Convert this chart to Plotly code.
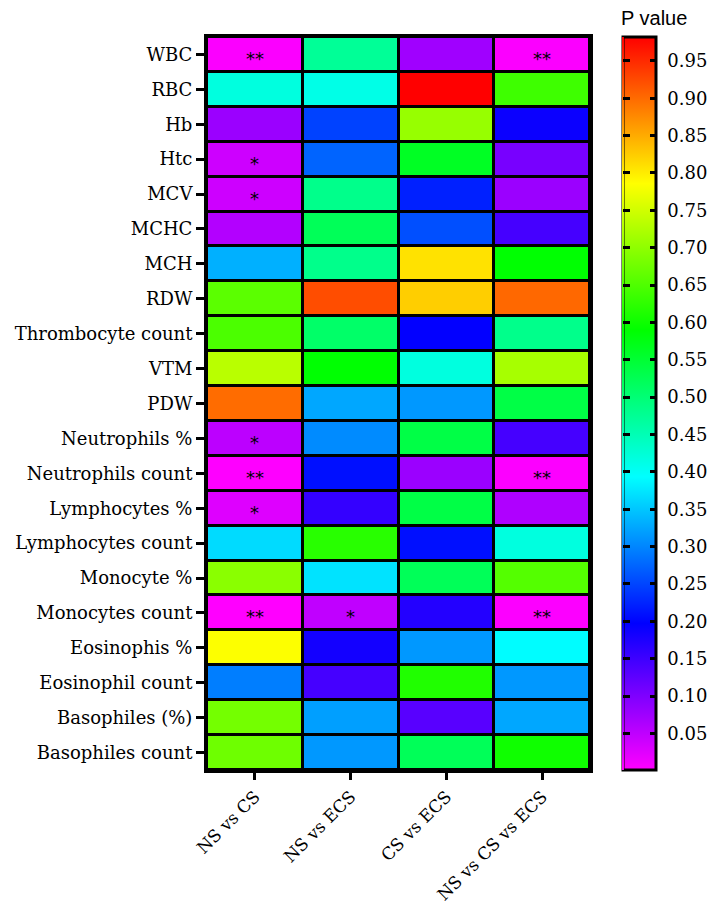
import colorsys
import plotly.graph_objects as go

rows = ["WBC", "RBC", "Hb", "Htc", "MCV", "MCHC", "MCH", "RDW", "Thrombocyte count",
        "VTM", "PDW", "Neutrophils %", "Neutrophils count", "Lymphocytes %",
        "Lymphocytes count", "Monocyte %", "Monocytes count", "Eosinophis %",
        "Eosinophil count", "Basophiles (%)", "Basophiles count"]
cols = ["NS vs CS", "NS vs ECS", "CS vs ECS", "NS vs CS vs ECS"]

ns_vs_cs = [0.004, 0.418, 0.078, 0.039, 0.039, 0.059, 0.333, 0.659, 0.647, 0.732, 0.899,
            0.052, 0.002, 0.026, 0.366, 0.696, 0.001, 0.784, 0.294, 0.679, 0.674]
ns_vs_ecs = [0.473, 0.412, 0.248, 0.274, 0.483, 0.522, 0.483, 0.923, 0.510, 0.588, 0.326,
             0.304, 0.209, 0.157, 0.620, 0.372, 0.049, 0.183, 0.144, 0.320, 0.314]
cs_vs_ecs = [0.074, 0.982, 0.706, 0.562, 0.222, 0.258, 0.808, 0.823, 0.196, 0.418, 0.314,
             0.536, 0.078, 0.536, 0.209, 0.522, 0.170, 0.314, 0.614, 0.130, 0.522]
ns_cs_ecs = [0.004, 0.637, 0.189, 0.105, 0.078, 0.144, 0.588, 0.902, 0.483, 0.718, 0.536,
             0.144, 0.003, 0.062, 0.418, 0.654, 0.003, 0.392, 0.314, 0.326, 0.601]

stars_ns_vs_cs = ["**", "", "", "*", "*", "", "", "", "", "", "", "*", "**", "*", "", "", "**", "", "", "", ""]
stars_ns_vs_ecs = ["", "", "", "", "", "", "", "", "", "", "", "", "", "", "", "", "*", "", "", "", ""]
stars_cs_vs_ecs = [""] * 21
stars_ns_cs_ecs = ["**", "", "", "", "", "", "", "", "", "", "", "", "**", "", "", "", "**", "", "", "", ""]

colorbar_title = "P value"

series = [ns_vs_cs, ns_vs_ecs, cs_vs_ecs, ns_cs_ecs]
stars = [stars_ns_vs_cs, stars_ns_vs_ecs, stars_cs_vs_ecs, stars_ns_cs_ecs]

z = [[series[j][i] for j in range(4)] for i in range(len(rows))]

# hue rainbow: magenta (low) -> blue -> cyan -> green -> yellow -> red (high)
cscale = []
n = 40
for k in range(n + 1):
    p = k / n
    r, g, b = colorsys.hsv_to_rgb((300 * (1 - p)) / 360.0, 1, 1)
    cscale.append([p, f"rgb({int(round(r*255))},{int(round(g*255))},{int(round(b*255))})"])

serif = "DejaVu Serif"
plot_w = 711 - 207 - 121
cb_x = 1.086

fig = go.Figure()
fig.add_trace(go.Heatmap(
    z=z, x=cols, y=rows, colorscale=cscale, xgap=3, ygap=3, hoverinfo="skip",
    colorbar=dict(
        thickness=33, len=1.0, lenmode="fraction", y=0.5, yanchor="middle",
        x=cb_x, xanchor="left", xpad=0, ypad=0,
        outlinewidth=3, outlinecolor="black",
        tickmode="linear", tick0=0, dtick=0.05, tickformat=".2f",
        tickprefix="\u00a0",
        ticks="inside", ticklen=7, tickwidth=3, tickcolor="black",
        tickfont=dict(family=serif, size=18, color="black"),
    ),
))
# second, invisible copy only to draw the tick marks on the left edge of the colour bar
fig.add_trace(go.Heatmap(
    z=z, x=cols, y=rows, colorscale=cscale, opacity=0, hoverinfo="skip",
    colorbar=dict(
        thickness=1, len=1.0, lenmode="fraction", y=0.5, yanchor="middle",
        x=cb_x - 1.0 / plot_w, xanchor="left", xpad=0, ypad=0,
        outlinewidth=0,
        tickmode="linear", tick0=0, dtick=0.05, showticklabels=False,
        ticks="outside", ticklen=7, tickwidth=3, tickcolor="black",
    ),
))

for j, c in enumerate(cols):
    for i, r in enumerate(rows):
        s = stars[j][i]
        if s:
            fig.add_annotation(x=c, y=r, text=s, showarrow=False, yshift=-4,
                               font=dict(family="DejaVu Sans", size=18, color="black"))

fig.add_annotation(xref="paper", yref="paper", x=cb_x - 4.0 / plot_w, y=1.008,
                   xanchor="left", yanchor="bottom", showarrow=False, text=colorbar_title,
                   font=dict(family="Liberation Sans", size=20, color="black"))

fig.update_layout(
    width=711, height=910,
    margin=dict(l=207, r=121, t=37, b=140, autoexpand=False),
    plot_bgcolor="black", paper_bgcolor="white",
    showlegend=False,
)
fig.update_xaxes(
    automargin=False,
    showline=True, linewidth=3, linecolor="black", mirror=True,
    ticks="outside", ticklen=7, tickwidth=3, tickcolor="black",
    tickangle=-45, tickfont=dict(family=serif, size=17, color="black"),
    showgrid=False, zeroline=False,
)
fig.update_yaxes(
    automargin=False,
    autorange="reversed",
    showline=True, linewidth=3, linecolor="black", mirror=True,
    ticks="outside", ticklen=8, tickwidth=3, tickcolor="black",
    tickfont=dict(family=serif, size=18, color="black"),
    showgrid=False, zeroline=False,
)

fig.write_html("out.html")
